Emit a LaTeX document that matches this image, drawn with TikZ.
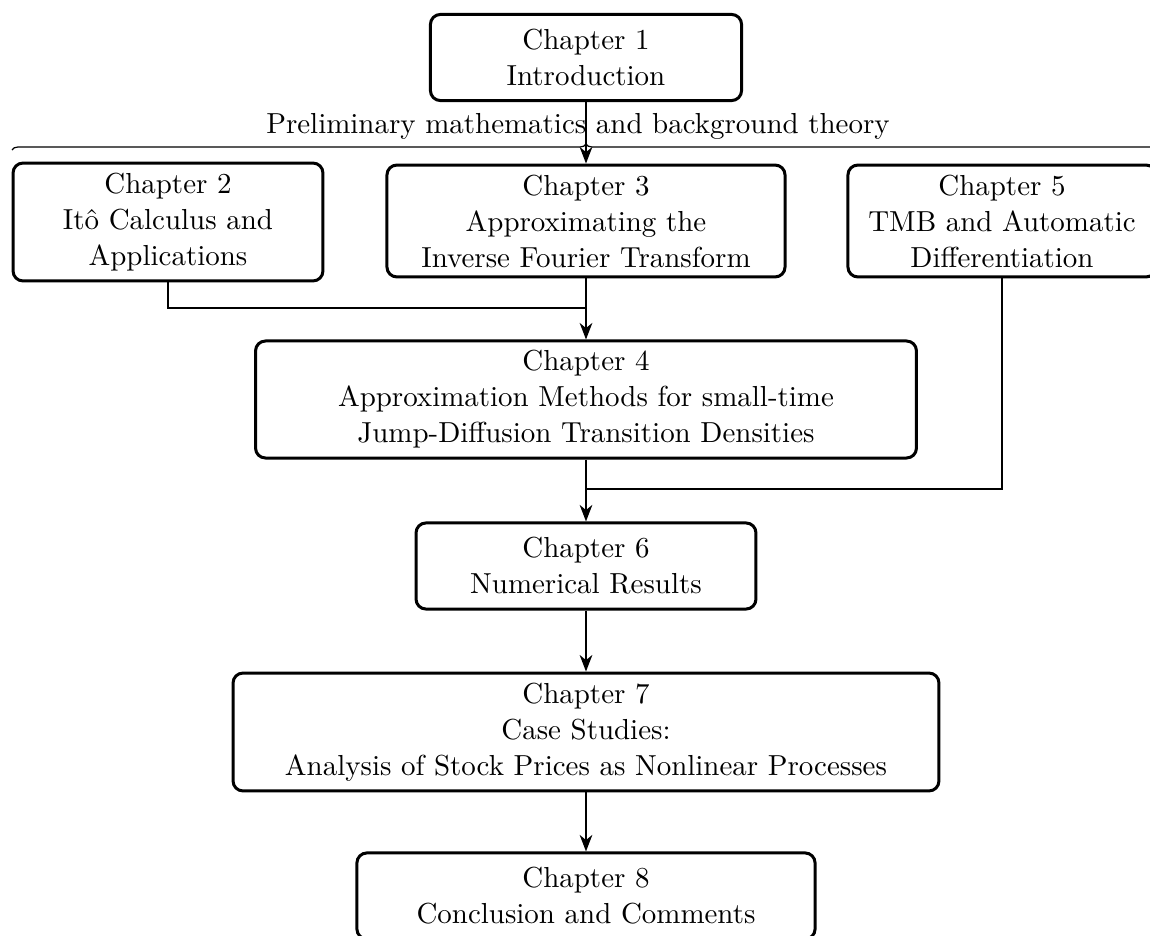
\documentclass[tikz,border=0pt]{standalone}
\usetikzlibrary{arrows.meta,decorations.pathreplacing}
\begin{document}
\begin{tikzpicture}[x=0.33333pt,y=-0.33333pt,
  every node/.style={font=\fontsize{9.65}{12}\selectfont},
  chap/.style={draw,line width=1pt,rounded corners=3.3pt,align=center,inner sep=2pt},
  conn/.style={line width=0.7pt},
  arr/.style={conn,-{Stealth[length=5.5pt,width=4.2pt,inset=1.7pt]}}]
\clip (0,0) rectangle (1150,936);
\useasboundingbox (0,0) rectangle (1150,936);

\node[chap,minimum width=103.7pt,minimum height=28.7pt] (b1) at (586,57.5) {Chapter 1\\Introduction};
\node[chap,minimum width=103.3pt,minimum height=39.3pt] (b2) at (168,222) {Chapter 2\\It\^o Calculus and\\Applications};
\node[chap,minimum width=132.7pt,minimum height=37.3pt] (b3) at (586,221) {Chapter 3\\Approximating the\\Inverse Fourier Transform};
\node[chap,minimum width=102.7pt,minimum height=37.3pt] (b5) at (1002,221) {Chapter 5\\TMB and Automatic\\Differentiation};
\node[chap,minimum width=220.3pt,minimum height=39pt] (b4) at (586,399.5) {Chapter 4\\Approximation Methods for small-time\\Jump-Diffusion Transition Densities};
\node[chap,minimum width=113.3pt,minimum height=28.7pt] (b6) at (586,566) {Chapter 6\\Numerical Results};
\node[chap,minimum width=235.3pt,minimum height=39.3pt] (b7) at (586,732) {Chapter 7\\Case Studies:\\Analysis of Stock Prices as Nonlinear Processes};
\node[chap,minimum width=152.7pt,minimum height=28.7pt] (b8) at (586,896) {Chapter 8\\Conclusion and Comments};

% brace
\coordinate (brL) at (12,150);
\coordinate (brR) at (1160,150);
\draw[line width=0.4pt,decorate,decoration={brace,amplitude=2pt}] (brL) -- (brR);
\node (lbl) at (578,126) {Preliminary mathematics and background theory};

\coordinate (j1) at (586,308);
\coordinate (j2) at (586,489);

\draw[arr] (b1.south) -- (b3.north);
\draw[conn] (b2.south) |- (j1);
\draw[arr] (b3.south) -- (b4.north);
\draw[conn] (b5.south) |- (j2);
\draw[arr] (b4.south) -- (b6.north);
\draw[arr] (b6.south) -- (b7.north);
\draw[arr] (b7.south) -- (b8.north);
\end{tikzpicture}
\end{document}
